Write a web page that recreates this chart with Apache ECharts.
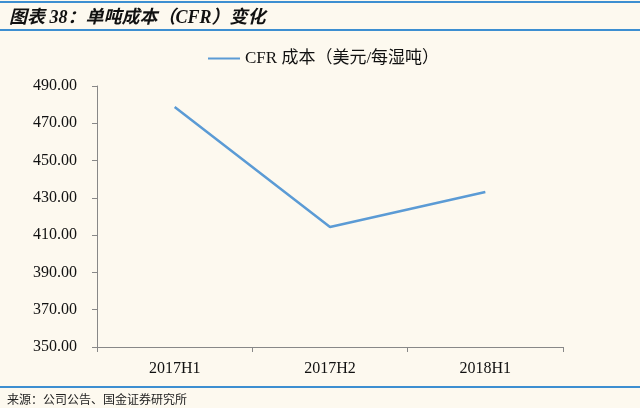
<!DOCTYPE html>
<html>
<head>
<meta charset="utf-8">
<script src="https://cdn.jsdelivr.net/npm/echarts@6/dist/echarts.min.js"></script>
<style>
  html, body { margin: 0; padding: 0; background: #fdf9ef; }
  #chart { width: 640px; height: 408px; }
</style>
</head>
<body>
<div id="chart"></div>
<script>
const categories = ['2017H1', '2017H2', '2018H1']
const cfrCost = [478.7, 414.4, 433.1]
const seriesName = 'CFR 成本（美元/每湿吨）'
const yMin = 350
const yMax = 490
const yStep = 20

const serif = '"Liberation Serif", "Noto Sans CJK SC", serif'

const chart = echarts.init(document.getElementById('chart'))

chart.setOption({
  backgroundColor: '#fdf9ef',
  animation: false,
  title: [
    {
      text: '图表 38：单吨成本（CFR）变化',
      left: 4,
      top: 4,
      textStyle: { fontSize: 18, fontWeight: 'bold', fontStyle: 'italic', color: '#111', fontFamily: serif },
    },
    {
      text: '来源：公司公告、国金证券研究所',
      left: 2,
      top: 390,
      textStyle: { fontSize: 12, fontWeight: 'normal', color: '#222', fontFamily: serif },
    },
  ],
  graphic: [
    { type: 'rect', shape: { x: 0, y: 1, width: 640, height: 2 }, style: { fill: '#3d8fd1' } },
    { type: 'rect', shape: { x: 0, y: 29, width: 640, height: 2 }, style: { fill: '#3d8fd1' } },
    { type: 'rect', shape: { x: 0, y: 386, width: 640, height: 2 }, style: { fill: '#3d8fd1' } },
  ],
  legend: {
    data: [seriesName],
    top: 45,
    left: 203,
    itemWidth: 32,
    itemHeight: 2,
    itemGap: 6,
    icon: 'rect',
    textStyle: { fontSize: 17, color: '#111', fontFamily: serif },
  },
  grid: {
    left: 97,
    right: 77,
    top: 86,
    bottom: 61,
  },
  xAxis: {
    type: 'category',
    data: categories,
    boundaryGap: true,
    axisLine: { lineStyle: { color: '#888', width: 1 } },
    axisTick: { show: true, length: 5, inside: false, lineStyle: { color: '#888' } },
    axisLabel: { fontSize: 16, color: '#111', margin: 14, fontFamily: serif },
  },
  yAxis: {
    type: 'value',
    min: yMin,
    max: yMax,
    interval: yStep,
    axisLine: { show: true, lineStyle: { color: '#888', width: 1 } },
    axisTick: { show: true, length: 5, lineStyle: { color: '#888' } },
    splitLine: { show: false },
    axisLabel: { fontSize: 16, color: '#111', margin: 20, fontFamily: serif, formatter: v => v.toFixed(2) },
  },
  series: [
    {
      name: seriesName,
      type: 'line',
      data: cfrCost,
      symbol: 'none',
      lineStyle: { color: '#5b9bd5', width: 2.5 },
      itemStyle: { color: '#5b9bd5' },
    },
  ],
})
</script>
</body>
</html>
